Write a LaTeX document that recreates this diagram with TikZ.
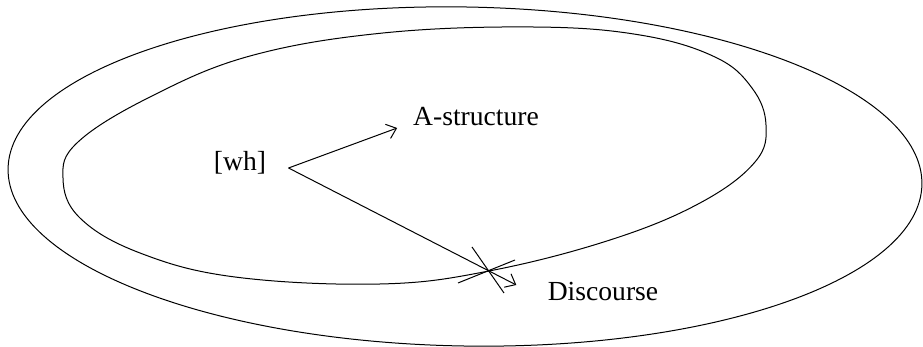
\documentclass[tikz,border=0pt]{standalone}
\usepackage{fontspec}
\setmainfont{Liberation Serif}
\usetikzlibrary{arrows.meta}
\usetikzlibrary{positioning}

\begin{document}
\begin{tikzpicture}[x=0.5pt,y=-0.5pt,line width=0.5pt,
        lbl/.style={font=\fontsize{13.8}{16}\selectfont,inner sep=0pt},
        barb/.style={-{Straight Barb[length=4.5pt,width=7.5pt]}}]
        \useasboundingbox (0,0) rectangle (923,347);
        \draw[rotate around={-1:(465,176.5)}] (465,176.5) ellipse (457 and 169.5);
        \draw plot[smooth cycle,tension=0.65] coordinates {(533,27) (640,35) (715,57)
            (752,88) (766,125) (755,162) (700,203) (610,240) (489,271) (380,284)
            (235,277) (140,253) (80,218) (63,178) (78,142) (150,97) (250,56) (383,33)};

        \node[lbl] (wh) at (240,163) {[wh]};
        \node[lbl] (astr) at (476,117) {A-structure};
        \node[lbl] (disc) at (603,292) {Discourse};

        \coordinate (src) at ([shift={(22,5)}]wh.east);
        \coordinate (astip) at ([shift={(-15.5,11)}]astr.west);
        \coordinate (distip) at ([shift={(-31,-7)}]disc.west);
        \coordinate (cut) at (489,271);
        \draw[barb] (src)--(astip);
        \draw[barb] (src)--(distip);
        \draw ([shift={(-17,-24)}]cut)--([shift={(15,22)}]cut);
        \draw ([shift={(-31,12)}]cut)--([shift={(26,-11)}]cut);
    \end{tikzpicture}
\end{document}
